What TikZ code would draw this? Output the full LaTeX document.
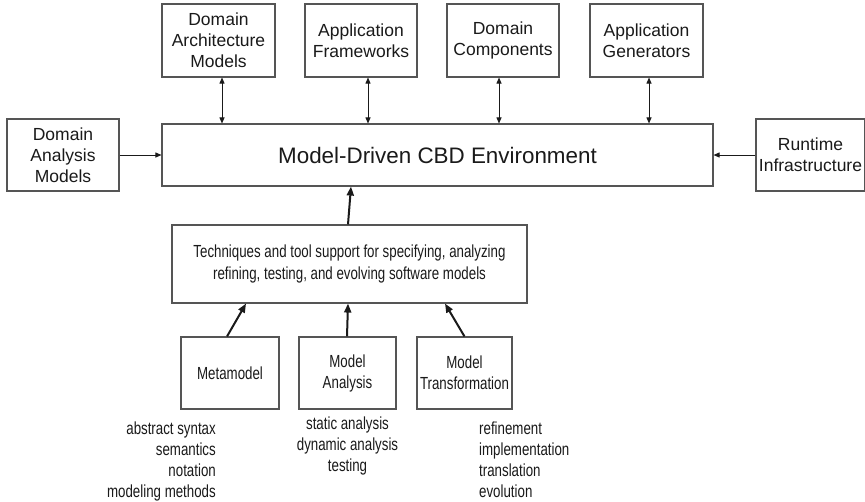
\documentclass[tikz,border=0pt]{standalone}
\usepackage{fontspec}
\setmainfont{Liberation Sans}
\newfontfamily\narrowsf[FakeStretch=0.76]{Liberation Sans}
\usetikzlibrary{arrows.meta}
\definecolor{boxline}{HTML}{555555}
\definecolor{ink}{HTML}{1A1A1A}
\begin{document}
\begin{tikzpicture}[x=1pt,y=-1pt,
  box/.style={draw=boxline, line width=1.1pt, inner sep=0pt, align=center, text=ink},
  topbox/.style={box, minimum height=73pt, font=\fontsize{17.5}{21}\selectfont},
  lowbox/.style={box, minimum height=72pt, font=\narrowsf\fontsize{17.5}{21}\selectfont},
  listtext/.style={inner sep=0pt, text=ink, font=\narrowsf\fontsize{17.5}{21}\selectfont},
  biarrow/.style={draw=ink, line width=0.9pt, arrows={Triangle[length=6pt,width=5pt]-Triangle[length=6pt,width=5pt]}},
  sidearrow/.style={draw=ink, line width=0.9pt, arrows={-Triangle[length=6pt,width=5pt]}},
  bigarrow/.style={draw=ink, line width=2pt, arrows={-Triangle[length=9pt,width=7pt]}}
]
\useasboundingbox[fill=white] (0,0) rectangle (865,501);

% central environment
\node[box, minimum width=551pt, minimum height=62pt, font=\fontsize{22.4}{26}\selectfont]
  (env) at (437.5,155) {Model-Driven CBD Environment};

% assets above the environment
\node[topbox, minimum width=113pt] (dam) at (218.5,40.5) {Domain\\Architecture\\Models};
\node[topbox, minimum width=112pt] (af)  at (361,40.5)   {Application\\Frameworks};
\node[topbox, minimum width=112pt] (dc)  at (503,40.5)   {Domain\\Components};
\node[topbox, minimum width=113pt] (ag)  at (646.5,40.5) {Application\\Generators};

% side inputs
\node[topbox, minimum width=112pt, minimum height=72pt] (dan) at (63,155) {Domain\\Analysis\\Models};
\node[topbox, minimum width=109pt, minimum height=72pt] (rt)  at (810.5,155) {Runtime\\Infrastructure};

% techniques layer
\node[lowbox, minimum width=355pt, minimum height=78pt, font=\narrowsf\fontsize{17.5}{22}\selectfont]
  (tech) at (349.5,264) {Techniques and tool support for specifying, analyzing\\refining, testing, and evolving software models};

% foundations
\node[lowbox, minimum width=98pt] (meta) at (230,373)   {Metamodel};
\node[lowbox, minimum width=97pt] (ma)   at (347.5,373) {Model\\Analysis};
\node[lowbox, minimum width=95pt] (mt)   at (464.5,373) {Model\\Transformation};

% item lists
\node[listtext, align=right, anchor=north east] (metalist) at ([xshift=-14pt,yshift=-12pt]meta.south)
  {abstract syntax\\semantics\\notation\\modeling methods};
\node[listtext, align=center, anchor=north] (malist) at ([yshift=-7pt]ma.south)
  {static analysis\\dynamic analysis\\testing};
\node[listtext, align=left, anchor=north west] (mtlist) at ([xshift=14.5pt,yshift=-12pt]mt.south)
  {refinement\\implementation\\translation\\evolution};

% connectors
\draw[biarrow] ([xshift=3.5pt]dam.south) -- ([xshift=3.5pt]dam.south |- env.north);
\draw[biarrow] ([xshift=7pt]af.south)    -- ([xshift=7pt]af.south |- env.north);
\draw[biarrow] ([xshift=-4pt]dc.south)   -- ([xshift=-4pt]dc.south |- env.north);
\draw[biarrow] ([xshift=2.5pt]ag.south)  -- ([xshift=2.5pt]ag.south |- env.north);
\draw[sidearrow] (dan.east) -- (env.west);
\draw[sidearrow] (rt.west) -- (env.east);
\draw[bigarrow] ([xshift=-1.5pt]tech.north) -- ([xshift=1.5pt]tech.north |- env.south);
\draw[bigarrow] ([xshift=-3pt]meta.north) -- ([xshift=-103.5pt]tech.south);
\draw[bigarrow] ([xshift=-0.5pt]ma.north) -- ([xshift=-1.5pt]tech.south);
\draw[bigarrow] (mt.north) -- ([xshift=95.5pt]tech.south);
\end{tikzpicture}
\end{document}
